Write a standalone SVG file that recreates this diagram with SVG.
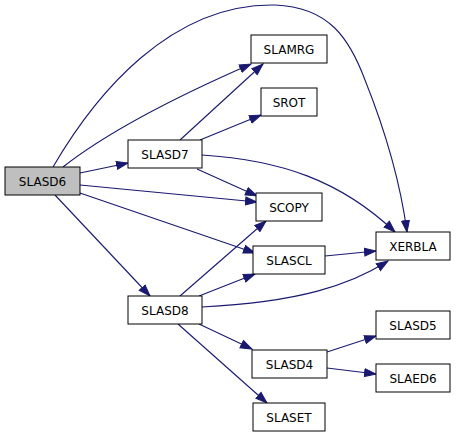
<svg xmlns="http://www.w3.org/2000/svg" width="456" height="437" viewBox="0 0 456 437">
<defs>
<style>
.n rect{fill:#fff;stroke:#000;stroke-width:1}
.n text{font-family:"DejaVu Sans","Liberation Sans",sans-serif;font-size:12px;font-weight:normal;fill:#000;text-anchor:middle}
#edges path{fill:none;stroke:#191970;stroke-width:1.1;marker-end:url(#ah)}
</style>
<marker id="ah" markerUnits="userSpaceOnUse" markerWidth="13" markerHeight="10" refX="12" refY="5" orient="auto">
<path d="M0.5,1 L12,5 L0.5,9 z" fill="#191970" stroke="#191970" stroke-width="1"/>
</marker>
</defs>
<rect width="456" height="437" fill="#fff"/>
<g id="edges">
<path d="M53,167 C95,95 170,3 275,5 C330,7 350,40 365,80 C385,130 400,180 407,232"/>
<path d="M63,167 C110,130 180,95 251,64"/>
<path d="M180,140 L263,64"/>
<path d="M200,140 L261,115"/>
<path d="M202,155 C280,160 340,180 395,232"/>
<path d="M197,169 L257,196"/>
<path d="M80,185 L257,202"/>
<path d="M80,193 L255,253"/>
<path d="M180,296 L266,221"/>
<path d="M199,296 L255,274"/>
<path d="M202,307 C300,302 350,285 388,261"/>
<path d="M199,324 L252,349"/>
<path d="M178,324 L267,403"/>
<path d="M325,256 L376,251"/>
<path d="M327,352 L376,336"/>
<path d="M327,368 L376,374"/>
<path d="M55,195 L150,296"/>
<path d="M80,173 L128,163"/>
</g>
<g id="SLASD6" class="n"><rect x="5" y="167" width="75" height="28" style="fill:#bfbfbf"/><text x="42.5" y="185.5">SLASD6</text></g>
<g id="SLASD7" class="n"><rect x="128" y="140" width="74" height="28"/><text x="165" y="158.5">SLASD7</text></g>
<g id="SLASD8" class="n"><rect x="128" y="296" width="74" height="28"/><text x="165" y="314.5">SLASD8</text></g>
<g id="SLAMRG" class="n"><rect x="251" y="35" width="76" height="28"/><text x="289" y="53.5">SLAMRG</text></g>
<g id="SROT" class="n"><rect x="261" y="88" width="56" height="28"/><text x="289" y="106.5">SROT</text></g>
<g id="SCOPY" class="n"><rect x="256" y="193" width="66" height="28"/><text x="289" y="211.5">SCOPY</text></g>
<g id="SLASCL" class="n"><rect x="253" y="246" width="72" height="28"/><text x="289" y="264.5">SLASCL</text></g>
<g id="XERBLA" class="n"><rect x="376" y="232" width="74" height="28"/><text x="413" y="250.5">XERBLA</text></g>
<g id="SLASD5" class="n"><rect x="376" y="311" width="74" height="28"/><text x="413" y="329.5">SLASD5</text></g>
<g id="SLASD4" class="n"><rect x="252" y="350" width="75" height="28"/><text x="289.5" y="368.5">SLASD4</text></g>
<g id="SLAED6" class="n"><rect x="376" y="364" width="74" height="28"/><text x="413" y="382.5">SLAED6</text></g>
<g id="SLASET" class="n"><rect x="253" y="403" width="72" height="28"/><text x="289" y="421.5">SLASET</text></g>
</svg>
